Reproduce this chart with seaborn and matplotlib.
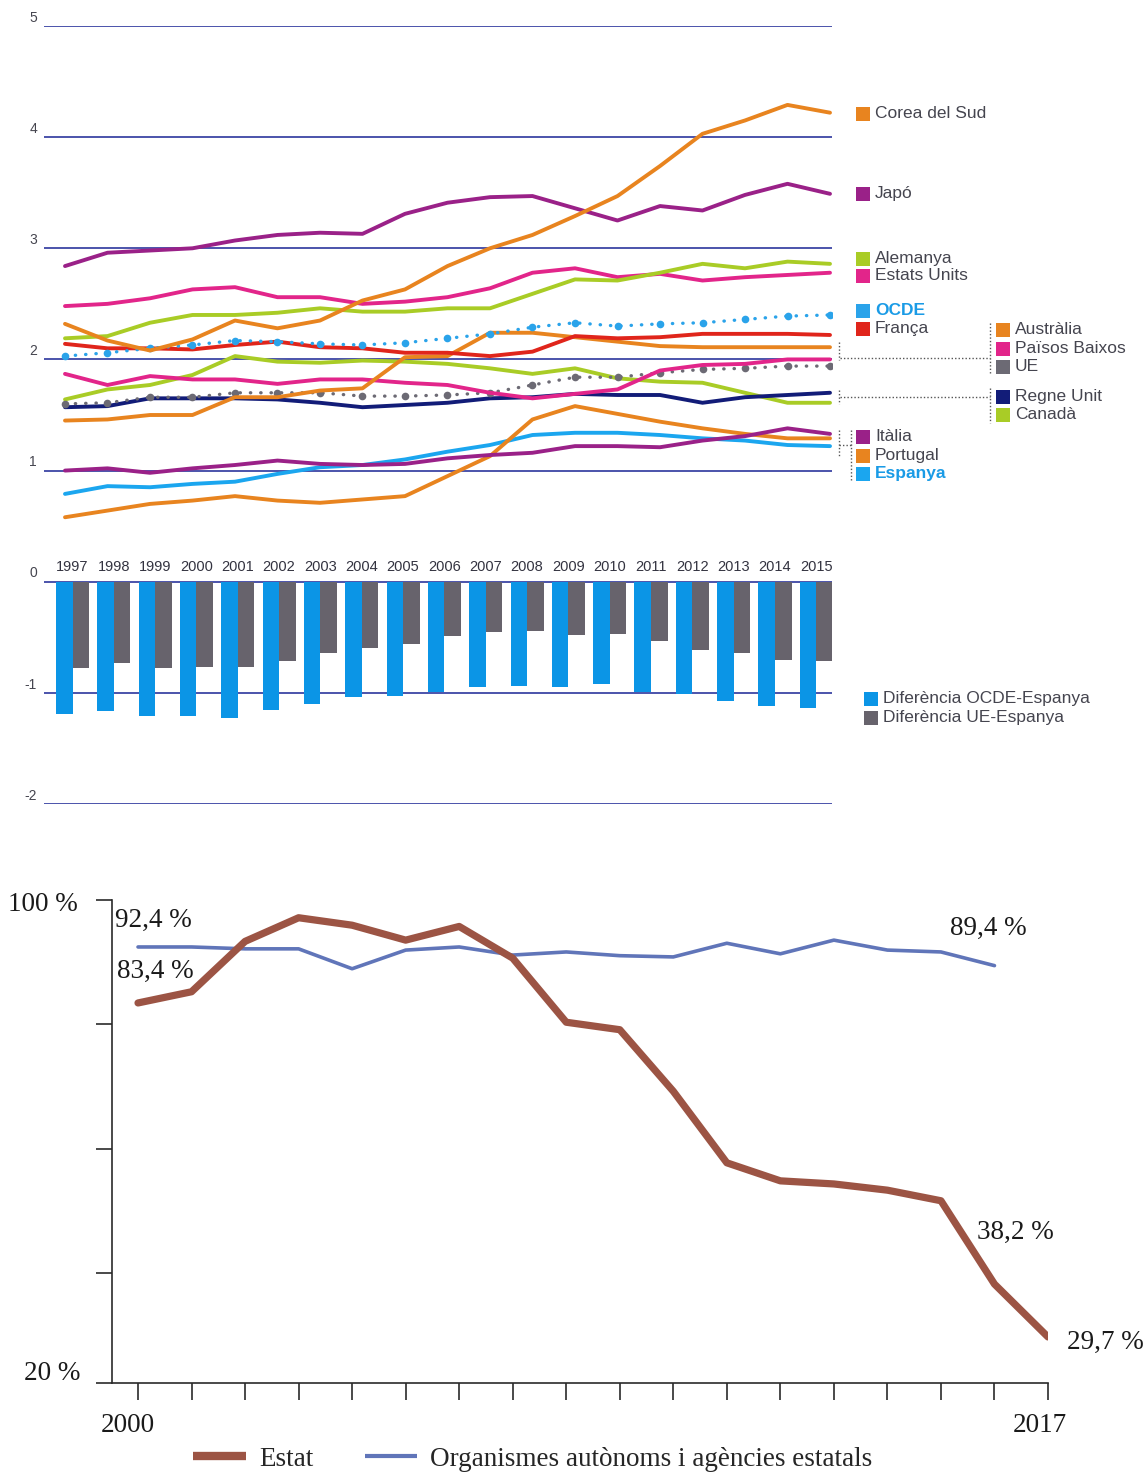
import matplotlib
matplotlib.use('Agg')
import pandas as pd
import matplotlib.pyplot as plt
import seaborn as sns
from matplotlib.patches import Rectangle
from matplotlib.lines import Line2D
from matplotlib import font_manager

# === Dades: despesa en R+D (% PIB), 1997-2015 ===
anys = list(range(1997, 2016))
corea = [2.32, 2.17, 2.08, 2.18, 2.35, 2.28, 2.35, 2.53, 2.63, 2.84, 3.00, 3.12, 3.29, 3.47, 3.74, 4.03, 4.15, 4.29, 4.22]
japo = [2.84, 2.96, 2.98, 3.00, 3.07, 3.12, 3.14, 3.13, 3.31, 3.41, 3.46, 3.47, 3.36, 3.25, 3.38, 3.34, 3.48, 3.58, 3.49]
alemanya = [2.19, 2.21, 2.33, 2.40, 2.40, 2.42, 2.46, 2.43, 2.43, 2.46, 2.46, 2.59, 2.72, 2.71, 2.78, 2.86, 2.82, 2.88, 2.86]
eua = [2.48, 2.50, 2.55, 2.63, 2.65, 2.56, 2.56, 2.50, 2.52, 2.56, 2.64, 2.78, 2.82, 2.74, 2.77, 2.71, 2.74, 2.76, 2.78]
ocde = [2.03, 2.06, 2.10, 2.13, 2.17, 2.16, 2.14, 2.13, 2.15, 2.19, 2.23, 2.29, 2.33, 2.30, 2.32, 2.33, 2.36, 2.39, 2.40]
franca = [2.14, 2.10, 2.10, 2.09, 2.13, 2.16, 2.11, 2.10, 2.06, 2.06, 2.03, 2.07, 2.21, 2.19, 2.20, 2.23, 2.23, 2.23, 2.22]
australia = [1.45, 1.46, 1.50, 1.50, 1.66, 1.66, 1.72, 1.74, 2.02, 2.03, 2.24, 2.24, 2.20, 2.16, 2.12, 2.11, 2.11, 2.11, 2.11]
paisos_baixos = [1.87, 1.77, 1.85, 1.82, 1.82, 1.78, 1.82, 1.82, 1.79, 1.77, 1.70, 1.65, 1.69, 1.73, 1.90, 1.95, 1.96, 2.00, 2.00]
ue = [1.60, 1.61, 1.66, 1.66, 1.70, 1.70, 1.70, 1.67, 1.67, 1.68, 1.70, 1.77, 1.84, 1.84, 1.88, 1.91, 1.92, 1.94, 1.94]
regne_unit = [1.57, 1.58, 1.65, 1.65, 1.65, 1.64, 1.61, 1.57, 1.59, 1.61, 1.65, 1.66, 1.69, 1.68, 1.68, 1.61, 1.66, 1.68, 1.70]
canada = [1.64, 1.73, 1.77, 1.86, 2.03, 1.98, 1.97, 1.99, 1.98, 1.96, 1.92, 1.87, 1.92, 1.83, 1.80, 1.79, 1.70, 1.61, 1.61]
italia = [1.00, 1.02, 0.98, 1.02, 1.05, 1.09, 1.06, 1.05, 1.06, 1.11, 1.14, 1.16, 1.22, 1.22, 1.21, 1.27, 1.31, 1.38, 1.33]
portugal = [0.58, 0.64, 0.70, 0.73, 0.77, 0.73, 0.71, 0.74, 0.77, 0.95, 1.13, 1.46, 1.58, 1.51, 1.44, 1.38, 1.33, 1.29, 1.29]
espanya = [0.79, 0.86, 0.85, 0.88, 0.90, 0.97, 1.03, 1.05, 1.10, 1.17, 1.23, 1.32, 1.34, 1.34, 1.32, 1.29, 1.27, 1.23, 1.22]

dif_ocde = [-1.19, -1.16, -1.21, -1.21, -1.23, -1.15, -1.10, -1.04, -1.03, -0.99, -0.95, -0.94, -0.95, -0.92, -0.99, -1.01, -1.07, -1.12, -1.14]
dif_ue = [-0.78, -0.73, -0.78, -0.77, -0.77, -0.71, -0.64, -0.60, -0.56, -0.49, -0.45, -0.44, -0.48, -0.47, -0.53, -0.61, -0.64, -0.70, -0.71]

# === Dades: execucio pressupostaria (%), 2000-2017 ===
anys2 = list(range(2000, 2018))
estat = [83.4, 85.2, 93.3, 97.1, 95.9, 93.5, 95.7, 90.6, 80.3, 79.1, 69.2, 57.7, 54.8, 54.3, 53.3, 51.6, 38.2, 29.7]
anys_org = list(range(2000, 2017))
organismes = [92.4, 92.4, 92.1, 92.1, 88.9, 91.9, 92.4, 91.1, 91.6, 91.0, 90.8, 93.0, 91.3, 93.5, 91.9, 91.6, 89.4]

# Colors
ORANGE = '#e8841f'
PURPLE = '#9a2188'
LIME = '#a9cc26'
PINK = '#e2258a'
OCDE_C = '#2aa3ea'
RED = '#e0251b'
GREY = '#6c6a74'
NAVY = '#121c78'
ESP = '#1ba6ef'
BAR_BLUE = '#0b95e6'
BAR_GREY = '#67636c'
GRID = '#3d45a5'
BROWN = '#9c5444'
SLATE = '#6075b9'
TXT = '#45454f'

sns.set_style('white')
noms = {f.name for f in font_manager.fontManager.ttflist}
SANS = 'Liberation Sans Narrow' if 'Liberation Sans Narrow' in noms else 'Liberation Sans'
SERIF = 'Liberation Serif'
plt.rcParams['font.family'] = [SANS, 'DejaVu Sans']

W, H = 1146, 1472
fig = plt.figure(figsize=(W / 100, H / 100), dpi=100)


def caixa(x0, y0, x1, y1):
    return [x0 / W, 1 - y1 / H, (x1 - x0) / W, (y1 - y0) / H]


# === 1. Grafic de linies superior ===
ax = fig.add_axes(caixa(44, 26, 832, 804))
ax.set_xlim(1996.506, 2015.047)
ax.set_ylim(-2, 5)
for s in ax.spines.values():
    s.set_visible(False)
ax.set_yticks(range(-2, 6))
ax.set_xticks([])
ax.yaxis.grid(True, color=GRID, lw=1.3)
ax.set_axisbelow(True)
ax.tick_params(left=False, bottom=False, labelleft=False, labelbottom=False)
for v in range(-2, 6):
    ax.text(-0.009, v + 0.075, str(v), transform=ax.get_yaxis_transform(),
            ha='right', va='center', fontsize=10, color=TXT)

series = [
    (canada, LIME, 'solid'), (regne_unit, NAVY, 'solid'), (ue, GREY, 'dot'),
    (paisos_baixos, PINK, 'solid'), (australia, ORANGE, 'solid'),
    (espanya, ESP, 'solid'), (portugal, ORANGE, 'solid'), (italia, PURPLE, 'solid'),
    (franca, RED, 'solid'), (ocde, OCDE_C, 'dot'), (eua, PINK, 'solid'),
    (alemanya, LIME, 'solid'), (japo, PURPLE, 'solid'), (corea, ORANGE, 'solid'),
]
for vals, col, estil in series:
    if estil == 'dot':
        sns.lineplot(x=anys, y=vals, ax=ax, color=col, lw=2.4, linestyle=(0, (0.1, 3.0)),
                     dash_capstyle='round', marker='o', markersize=5.5, markeredgewidth=0)
    else:
        sns.lineplot(x=anys, y=vals, ax=ax, color=col, lw=2.8, solid_capstyle='round')
ax.set_xlabel('')
ax.set_ylabel('')

# Barres de diferencia
ax2 = ax.twiny()
bar_df = pd.DataFrame({
    'any': [str(a) for a in anys] * 2,
    'dif': dif_ocde + dif_ue,
    'serie': ['OCDE'] * len(anys) + ['UE'] * len(anys),
})
sns.barplot(data=bar_df, x='any', y='dif', hue='serie', palette=[BAR_BLUE, BAR_GREY],
            ax=ax2, legend=False, width=0.8, saturation=1, linewidth=0)
ax2.set_xlim(-0.69, 18.38)
ax2.set_ylim(-2, 5)
ax2.set_xlabel('')
ax2.set_ylabel('')
ax2.set_xticks([])
ax2.tick_params(top=False, labeltop=False, bottom=False, labelbottom=False)
for s in ax2.spines.values():
    s.set_visible(False)
for i, a in enumerate(anys):
    ax2.text(i, 0.135, str(a), ha='center', va='center', fontsize=10.5, color='#333340')

# Llegenda de la dreta
def quadre(x, yc, col, txt, bold=False, tcol=TXT, size=12.5):
    fig.add_artist(Rectangle((x / W, 1 - (yc + 7) / H), 14 / W, 14 / H,
                             transform=fig.transFigure, color=col, lw=0))
    fig.text((x + 19) / W, 1 - (yc - 0.5) / H, txt, ha='left', va='center', fontsize=size,
             color=tcol, fontweight='bold' if bold else 'normal')


def punts(x0, y0, x1, y1):
    fig.add_artist(Line2D([x0 / W, x1 / W], [1 - y0 / H, 1 - y1 / H],
                          transform=fig.transFigure, ls=(0, (1, 1.5)), lw=1.0, color='#555'))


quadre(856, 114, ORANGE, 'Corea del Sud')
quadre(856, 194, PURPLE, 'Japó')
quadre(856, 259, LIME, 'Alemanya')
quadre(856, 276, PINK, 'Estats Units')
quadre(856, 311, OCDE_C, 'OCDE', bold=True, tcol='#1a9be6')
quadre(856, 329, RED, 'França')
quadre(856, 437, PURPLE, 'Itàlia')
quadre(856, 456, ORANGE, 'Portugal')
quadre(856, 474, ESP, 'Espanya', bold=True, tcol='#1a9be6')
quadre(996, 330, ORANGE, 'Austràlia')
quadre(996, 349, PINK, 'Països Baixos')
quadre(996, 367, GREY, 'UE')
quadre(996, 397, NAVY, 'Regne Unit')
quadre(996, 415, LIME, 'Canadà')
quadre(864, 699, BAR_BLUE, 'Diferència OCDE-Espanya')
quadre(864, 718, BAR_GREY, 'Diferència UE-Espanya')

punts(990, 323, 990, 374)
punts(840, 358, 990, 358)
punts(839, 342, 839, 360)
punts(990, 388, 990, 423)
punts(840, 397, 990, 397)
punts(839, 390, 839, 404)
punts(851, 430, 851, 482)
punts(839, 445, 851, 445)
punts(839, 430, 839, 456)

# === 2. Grafic inferior ===
ax3 = fig.add_axes(caixa(112, 899.7, 1048, 1383))
ybot = 22.3
ax3.set_xlim(1999.514, 2017)
ax3.set_ylim(ybot, 100)
sns.lineplot(x=anys_org, y=organismes, ax=ax3, color=SLATE, lw=2.6)
sns.lineplot(x=anys2, y=estat, ax=ax3, color=BROWN, lw=5.2)
ax3.set_xlabel('')
ax3.set_ylabel('')
for s in ['top', 'right']:
    ax3.spines[s].set_visible(False)
for s in ['left', 'bottom']:
    ax3.spines[s].set_color('#2a2a2a')
    ax3.spines[s].set_linewidth(1.2)
ax3.set_yticks([ybot, 40, 60, 80, 100])
ax3.set_xticks(anys2)
ax3.tick_params(axis='y', left=True, length=11.5, width=1.2, color='#2a2a2a',
                direction='out', labelleft=False)
ax3.tick_params(axis='x', bottom=True, length=12, width=1.2, color='#2a2a2a',
                direction='out', labelbottom=False)

serif = dict(family=SERIF, fontsize=19.5, color='#1a1a1a', ha='center', va='center',
             textcoords='offset pixels')
ax3.annotate('2000', xy=(2000, ybot), xytext=(-10, -42), annotation_clip=False, **serif)
ax3.annotate('2017', xy=(2017, ybot), xytext=(-8, -42), annotation_clip=False, **serif)
ax3.annotate('100 %', xy=(1999.514, 100), xytext=(-69, -5), annotation_clip=False, **serif)
ax3.annotate('20 %', xy=(1999.514, ybot), xytext=(-60, 10), annotation_clip=False, **serif)
ax3.annotate('92,4 %', xy=(anys_org[0], organismes[0]), xytext=(15, 27), **serif)
ax3.annotate('83,4 %', xy=(anys2[0], estat[0]), xytext=(17, 32), **serif)
ax3.annotate('89,4 %', xy=(anys_org[-1], organismes[-1]), xytext=(-6, 37), **serif)
ax3.annotate('38,2 %', xy=(anys2[-2], estat[-2]), xytext=(21, 52), **serif)
ax3.annotate('29,7 %', xy=(anys2[-1], estat[-1]), xytext=(57, -5), annotation_clip=False, **serif)

handles = [Line2D([], [], color=BROWN, lw=6, solid_capstyle='butt'),
           Line2D([], [], color=SLATE, lw=3, solid_capstyle='butt')]
fig.legend(handles, ['Estat', 'Organismes autònoms i agències estatals'],
           loc='center left', bbox_to_anchor=(193 / W, 1 - 1459 / H), ncol=2, frameon=False,
           prop={'family': SERIF, 'size': 19.5}, handlelength=1.95, handletextpad=0.48,
           columnspacing=1.9, borderpad=0, borderaxespad=0)

fig.savefig('out.png', dpi=100)
